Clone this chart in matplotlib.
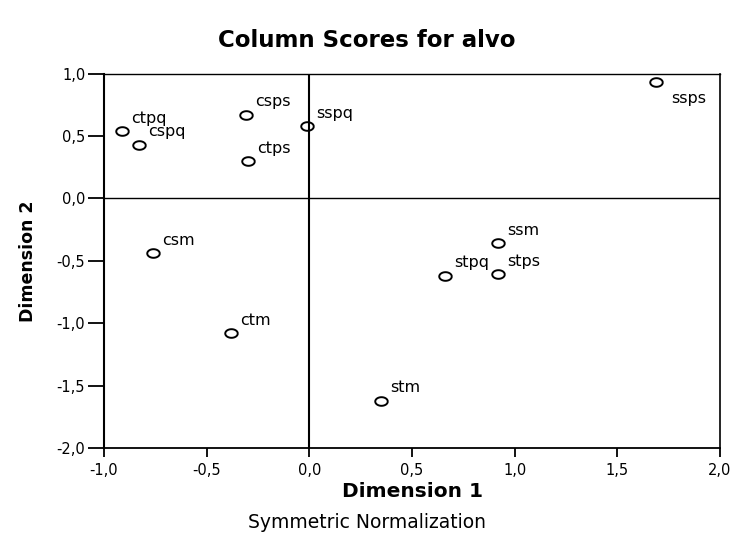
import numpy as np
import matplotlib
matplotlib.use('Agg')
import matplotlib.pyplot as plt
from matplotlib.path import Path
from matplotlib.ticker import FuncFormatter

# column scores (symmetric normalization)
labels = ['ctpq', 'cspq', 'csps', 'ctps', 'sspq', 'ssps',
          'csm', 'ctm', 'stm', 'ssm', 'stpq', 'stps']
dim1 = [-0.91, -0.83, -0.31, -0.30, -0.01, 1.69,
        -0.76, -0.38, 0.35, 0.92, 0.66, 0.92]
dim2 = [0.54, 0.43, 0.67, 0.30, 0.58, 0.93,
        -0.44, -1.08, -1.62, -0.36, -0.62, -0.61]

plt.rcParams['font.family'] = ['DejaVu Sans']

fig = plt.figure(figsize=(7.38, 5.34), dpi=100)
ax = fig.add_axes([104 / 738, 1 - 448 / 534, (720 - 104) / 738, (448 - 73.5) / 534])

# slightly flattened open circle, like the original marker
t = np.linspace(0, 2 * np.pi, 60)
ellipse = Path(np.column_stack([1.45 * np.cos(t), np.sin(t)]))

ax.axhline(0, color='black', lw=1.0, zorder=1)
ax.axvline(0, color='black', lw=1.5, zorder=1)

ax.plot(dim1, dim2, linestyle='none', marker=ellipse, markersize=9,
        mfc='none', mec='black', mew=1.4, zorder=3)

for name, x, y in zip(labels, dim1, dim2):
    if name == 'ssps':
        off = (11, -15)
    else:
        off = (6.5, 6)
    ax.annotate(name, (x, y), xytext=off, textcoords='offset points',
                ha='left', va='baseline', fontsize=11.5)

ax.set_xlim(-1, 2)
ax.set_ylim(-2, 1)
ax.set_xticks(np.arange(-1, 2.01, 0.5))
ax.set_yticks(np.arange(-2, 1.01, 0.5))
fmt = FuncFormatter(lambda v, p: f'{v:.1f}'.replace('.', ','))
ax.xaxis.set_major_formatter(fmt)
ax.yaxis.set_major_formatter(fmt)
ax.tick_params(axis='y', direction='out', length=11.5, width=1.3, pad=2, labelsize=10.5)
ax.tick_params(axis='x', direction='out', length=6.5, width=1.3, pad=4, labelsize=10.5)

ax.spines['left'].set_linewidth(1.5)
ax.spines['bottom'].set_linewidth(1.3)
ax.spines['top'].set_linewidth(1.0)
ax.spines['right'].set_linewidth(1.2)

ax.set_xlabel('Dimension 1', fontsize=14.5, fontweight='bold', labelpad=3)
ax.set_ylabel('Dimension 2', fontsize=12.5, fontweight='bold')
ax.yaxis.set_label_coords(-0.108, 0.5)

fig.suptitle('Column Scores for alvo', x=0.497, y=1 - 47 / 534, va='baseline',
             fontsize=16.5, fontweight='bold')
fig.text(0.497, 1 - 528 / 534, 'Symmetric Normalization', ha='center', va='baseline',
         fontsize=13.5)

fig.savefig('out.png', dpi=100)
